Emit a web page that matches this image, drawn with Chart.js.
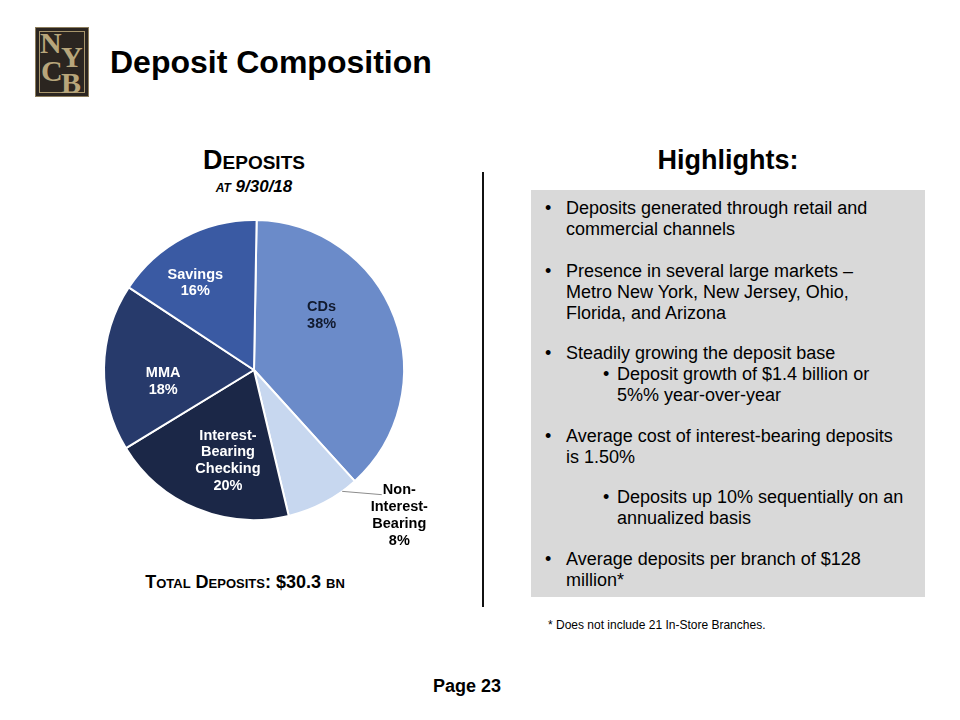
<!DOCTYPE html>
<html>
<head>
<meta charset="utf-8">
<script src="https://cdn.jsdelivr.net/npm/chart.js@4.4.1/dist/chart.umd.min.js"></script>
<style>
  body { margin:0; width:960px; height:720px; background:#fff; font-family:"Liberation Sans", Arial, sans-serif; position:relative; overflow:hidden; }
  .abs { position:absolute; }
  #logo { left:35px; top:27px; width:54px; height:70px; background:#2b2520; box-sizing:border-box; border:1px solid #8c7d5c; }
  #logo .inner { position:absolute; left:3px; top:3px; right:3px; bottom:3px; border:1px solid #a8966c; }
  #logo span { position:absolute; font-family:"Liberation Serif", "DejaVu Serif", serif; font-weight:bold; color:#b8a67b; font-size:30px; line-height:30px; }
  #title { left:110px; top:44px; font-size:32px; font-weight:bold; color:#000; }
  #depTitle { left:150px; top:145px; width:208px; text-align:center; font-weight:bold; font-variant:small-caps; font-size:27px; line-height:30px; }
  #depSub { left:154px; top:177px; width:200px; text-align:center; font-weight:bold; font-style:italic; font-variant:small-caps; font-size:17px; }
  #total { left:95px; top:572px; width:300px; text-align:center; font-weight:bold; font-variant:small-caps; font-size:18px; }
  #divider { left:482px; top:172px; width:2px; height:435px; background:#111; }
  #hl { left:531px; top:145px; width:394px; text-align:center; font-weight:bold; font-size:27px; }
  #box { left:531px; top:190px; width:394px; height:407px; background:#d9d9d9; }
  .b { position:absolute; font-size:18px; line-height:21px; color:#000; }
  .b .dot { position:absolute; left:-21px; top:0; }
  #foot { left:548px; top:618px; font-size:12px; }
  #page { left:400px; top:676px; width:134px; text-align:center; font-weight:bold; font-size:18px; }
  #wrap { left:40px; top:200px; width:420px; height:360px; }
</style>
</head>
<body>
<div id="logo" class="abs"><div class="inner"></div>
  <span style="left:4px;top:0px;">N</span>
  <span style="left:25px;top:14px;">Y</span>
  <span style="left:5px;top:28px;">C</span>
  <span style="left:25px;top:40px;">B</span>
</div>
<div id="title" class="abs">Deposit Composition</div>
<div id="depTitle" class="abs">Deposits</div>
<div id="depSub" class="abs">at 9/30/18</div>
<div id="wrap" class="abs"><canvas id="pie"></canvas></div>
<div id="total" class="abs">Total Deposits: $30.3 bn</div>
<div id="divider" class="abs"></div>
<div id="hl" class="abs">Highlights:</div>
<div id="box" class="abs"></div>
<div class="b" style="left:566px;top:198px;"><span class="dot">•</span>Deposits generated through retail and<br>commercial channels</div>
<div class="b" style="left:566px;top:261px;"><span class="dot">•</span>Presence in several large markets –<br>Metro New York, New Jersey, Ohio,<br>Florida, and Arizona</div>
<div class="b" style="left:566px;top:343px;"><span class="dot">•</span>Steadily growing the deposit base</div>
<div class="b" style="left:617px;top:364px;"><span class="dot" style="left:-14px;">•</span>Deposit growth of $1.4 billion or<br>5%% year-over-year</div>
<div class="b" style="left:566px;top:426px;"><span class="dot">•</span>Average cost of interest-bearing deposits<br>is 1.50%</div>
<div class="b" style="left:617px;top:487px;"><span class="dot" style="left:-14px;">•</span>Deposits up 10% sequentially on an<br>annualized basis</div>
<div class="b" style="left:566px;top:549px;"><span class="dot">•</span>Average deposits per branch of $128<br>million*</div>
<div id="foot" class="abs">* Does not include 21 In-Store Branches.</div>
<div id="page" class="abs">Page 23</div>

<script>
const categories = ['CDs', 'Non-Interest-Bearing', 'Interest-Bearing Checking', 'MMA', 'Savings'];
const shares = [38, 8, 20, 18, 16];
const labelLines = [['CDs'], ['Non-', 'Interest-', 'Bearing'], ['Interest-', 'Bearing', 'Checking'], ['MMA'], ['Savings']];
const sliceColors = ['#6b8bc9', '#c7d7ef', '#1b2747', '#273a6b', '#3a5aa3'];
const labelColors = ['#111a2e', '#000000', '#ffffff', '#ffffff', '#ffffff'];
// label placement: angle (deg, clockwise from top) and radius fraction
const labelAngle = [51, 135, 196, 263, 326];
const labelRadius = [0.58, 1.37, 0.63, 0.61, 0.70];

const pieLabels = {
  id: 'pieLabels',
  afterDatasetsDraw(chart) {
    const ctx = chart.ctx;
    const arcs = chart.getDatasetMeta(0).data;
    ctx.save();
    ctx.font = 'bold 14.5px "Liberation Sans", Arial, sans-serif';
    ctx.textAlign = 'center';
    ctx.textBaseline = 'middle';
    arcs.forEach((arc, i) => {
      const R = arc.outerRadius;
      const a = labelAngle[i] * Math.PI / 180;
      const cx = arc.x + Math.sin(a) * R * labelRadius[i];
      const cy = arc.y - Math.cos(a) * R * labelRadius[i];
      const lines = labelLines[i].concat([shares[i] + '%']);
      const lh = 16.8;
      if (labelRadius[i] > 1) {
        // leader line from slice edge
        const a0 = 144 * Math.PI / 180, a1 = 134.3 * Math.PI / 180;
        ctx.strokeStyle = '#8c8c8c';
        ctx.lineWidth = 1;
        ctx.beginPath();
        ctx.moveTo(arc.x + Math.sin(a0) * R, arc.y - Math.cos(a0) * R);
        ctx.lineTo(arc.x + Math.sin(a1) * R * 1.19, arc.y - Math.cos(a1) * R * 1.19);
        ctx.stroke();
      }
      ctx.fillStyle = labelColors[i];
      lines.forEach((t, k) => {
        ctx.fillText(t, cx, cy + (k - (lines.length - 1) / 2) * lh);
      });
    });
    ctx.restore();
  }
};

new Chart(document.getElementById('pie'), {
  type: 'pie',
  data: {
    labels: categories,
    datasets: [{
      data: shares,
      backgroundColor: sliceColors,
      borderColor: '#ffffff',
      borderWidth: 2
    }]
  },
  options: {
    responsive: true,
    maintainAspectRatio: false,
    animation: false,
    rotation: 1,
    layout: { padding: { left: 63, right: 55, top: 19, bottom: 39 } },
    plugins: { legend: { display: false }, tooltip: { enabled: false } }
  },
  plugins: [pieLabels]
});
</script>
</body>
</html>
